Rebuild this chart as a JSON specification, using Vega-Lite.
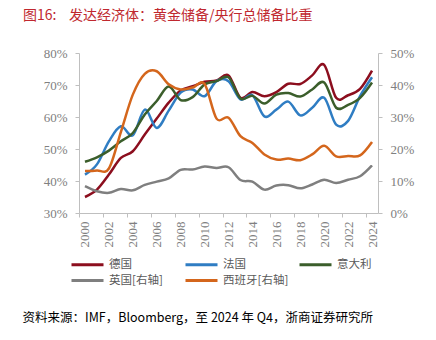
{
  "$schema": "https://vega.github.io/schema/vega-lite/v6.json",
  "width": 299,
  "height": 160,
  "autosize": {"type": "none"},
  "padding": {"left": 79, "top": 53, "right": 58, "bottom": 127},
  "background": "white",
  "title": {
    "text": "图16:\u00a0\u00a0\u00a0\u00a0发达经济体：黄金储备/央行总储备比重",
    "anchor": "start",
    "frame": "group",
    "dx": -56,
    "offset": 24,
    "font": "Noto Sans CJK SC",
    "fontSize": 14,
    "fontWeight": "normal",
    "color": "#C0282F"
  },
  "data": {
    "values": [
      {"year": 2000, "country": "德国", "value": 35.0},
      {"year": 2001, "country": "德国", "value": 37.3},
      {"year": 2002, "country": "德国", "value": 42.0},
      {"year": 2003, "country": "德国", "value": 47.2},
      {"year": 2004, "country": "德国", "value": 49.3},
      {"year": 2005, "country": "德国", "value": 54.5},
      {"year": 2006, "country": "德国", "value": 59.5},
      {"year": 2007, "country": "德国", "value": 64.5},
      {"year": 2008, "country": "德国", "value": 68.3},
      {"year": 2009, "country": "德国", "value": 69.6},
      {"year": 2010, "country": "德国", "value": 71.0},
      {"year": 2011, "country": "德国", "value": 71.4},
      {"year": 2012, "country": "德国", "value": 73.0},
      {"year": 2013, "country": "德国", "value": 66.0},
      {"year": 2014, "country": "德国", "value": 67.8},
      {"year": 2015, "country": "德国", "value": 66.5},
      {"year": 2016, "country": "德国", "value": 67.8},
      {"year": 2017, "country": "德国", "value": 70.4},
      {"year": 2018, "country": "德国", "value": 70.3},
      {"year": 2019, "country": "德国", "value": 73.0},
      {"year": 2020, "country": "德国", "value": 76.3},
      {"year": 2021, "country": "德国", "value": 66.0},
      {"year": 2022, "country": "德国", "value": 66.8},
      {"year": 2023, "country": "德国", "value": 68.8},
      {"year": 2024, "country": "德国", "value": 74.5},
      {"year": 2000, "country": "法国", "value": 42.0},
      {"year": 2001, "country": "法国", "value": 45.2},
      {"year": 2002, "country": "法国", "value": 52.4},
      {"year": 2003, "country": "法国", "value": 57.1},
      {"year": 2004, "country": "法国", "value": 54.3},
      {"year": 2005, "country": "法国", "value": 62.3},
      {"year": 2006, "country": "法国", "value": 56.6},
      {"year": 2007, "country": "法国", "value": 62.0},
      {"year": 2008, "country": "法国", "value": 67.6},
      {"year": 2009, "country": "法国", "value": 68.6},
      {"year": 2010, "country": "法国", "value": 66.5},
      {"year": 2011, "country": "法国", "value": 71.2},
      {"year": 2012, "country": "法国", "value": 71.2},
      {"year": 2013, "country": "法国", "value": 65.5},
      {"year": 2014, "country": "法国", "value": 66.8},
      {"year": 2015, "country": "法国", "value": 60.2},
      {"year": 2016, "country": "法国", "value": 62.3},
      {"year": 2017, "country": "法国", "value": 64.8},
      {"year": 2018, "country": "法国", "value": 60.5},
      {"year": 2019, "country": "法国", "value": 62.9},
      {"year": 2020, "country": "法国", "value": 66.0},
      {"year": 2021, "country": "法国", "value": 57.6},
      {"year": 2022, "country": "法国", "value": 58.8},
      {"year": 2023, "country": "法国", "value": 66.5},
      {"year": 2024, "country": "法国", "value": 72.4},
      {"year": 2000, "country": "意大利", "value": 46.0},
      {"year": 2001, "country": "意大利", "value": 47.4},
      {"year": 2002, "country": "意大利", "value": 49.5},
      {"year": 2003, "country": "意大利", "value": 52.4},
      {"year": 2004, "country": "意大利", "value": 55.0},
      {"year": 2005, "country": "意大利", "value": 60.8},
      {"year": 2006, "country": "意大利", "value": 65.0},
      {"year": 2007, "country": "意大利", "value": 69.5},
      {"year": 2008, "country": "意大利", "value": 65.3},
      {"year": 2009, "country": "意大利", "value": 66.2},
      {"year": 2010, "country": "意大利", "value": 70.2},
      {"year": 2011, "country": "意大利", "value": 71.2},
      {"year": 2012, "country": "意大利", "value": 72.4},
      {"year": 2013, "country": "意大利", "value": 65.8},
      {"year": 2014, "country": "意大利", "value": 66.6},
      {"year": 2015, "country": "意大利", "value": 64.2},
      {"year": 2016, "country": "意大利", "value": 67.0},
      {"year": 2017, "country": "意大利", "value": 67.5},
      {"year": 2018, "country": "意大利", "value": 66.4},
      {"year": 2019, "country": "意大利", "value": 68.6},
      {"year": 2020, "country": "意大利", "value": 70.8},
      {"year": 2021, "country": "意大利", "value": 62.9},
      {"year": 2022, "country": "意大利", "value": 63.8},
      {"year": 2023, "country": "意大利", "value": 66.0},
      {"year": 2024, "country": "意大利", "value": 70.8},
      {"year": 2000, "country": "英国[右轴]", "value": 8.4},
      {"year": 2001, "country": "英国[右轴]", "value": 6.8},
      {"year": 2002, "country": "英国[右轴]", "value": 6.3},
      {"year": 2003, "country": "英国[右轴]", "value": 7.5},
      {"year": 2004, "country": "英国[右轴]", "value": 7.1},
      {"year": 2005, "country": "英国[右轴]", "value": 8.8},
      {"year": 2006, "country": "英国[右轴]", "value": 9.8},
      {"year": 2007, "country": "英国[右轴]", "value": 10.8},
      {"year": 2008, "country": "英国[右轴]", "value": 13.5},
      {"year": 2009, "country": "英国[右轴]", "value": 13.6},
      {"year": 2010, "country": "英国[右轴]", "value": 14.5},
      {"year": 2011, "country": "英国[右轴]", "value": 14.1},
      {"year": 2012, "country": "英国[右轴]", "value": 14.3},
      {"year": 2013, "country": "英国[右轴]", "value": 10.3},
      {"year": 2014, "country": "英国[右轴]", "value": 9.8},
      {"year": 2015, "country": "英国[右轴]", "value": 7.3},
      {"year": 2016, "country": "英国[右轴]", "value": 8.6},
      {"year": 2017, "country": "英国[右轴]", "value": 8.7},
      {"year": 2018, "country": "英国[右轴]", "value": 7.7},
      {"year": 2019, "country": "英国[右轴]", "value": 8.9},
      {"year": 2020, "country": "英国[右轴]", "value": 10.4},
      {"year": 2021, "country": "英国[右轴]", "value": 9.4},
      {"year": 2022, "country": "英国[右轴]", "value": 10.4},
      {"year": 2023, "country": "英国[右轴]", "value": 11.5},
      {"year": 2024, "country": "英国[右轴]", "value": 14.9},
      {"year": 2000, "country": "西班牙[右轴]", "value": 13.1},
      {"year": 2001, "country": "西班牙[右轴]", "value": 13.3},
      {"year": 2002, "country": "西班牙[右轴]", "value": 13.9},
      {"year": 2003, "country": "西班牙[右轴]", "value": 25.3},
      {"year": 2004, "country": "西班牙[右轴]", "value": 37.0},
      {"year": 2005, "country": "西班牙[右轴]", "value": 43.5},
      {"year": 2006, "country": "西班牙[右轴]", "value": 44.3},
      {"year": 2007, "country": "西班牙[右轴]", "value": 40.2},
      {"year": 2008, "country": "西班牙[右轴]", "value": 38.6},
      {"year": 2009, "country": "西班牙[右轴]", "value": 39.2},
      {"year": 2010, "country": "西班牙[右轴]", "value": 40.3},
      {"year": 2011, "country": "西班牙[右轴]", "value": 29.5},
      {"year": 2012, "country": "西班牙[右轴]", "value": 29.8},
      {"year": 2013, "country": "西班牙[右轴]", "value": 24.0},
      {"year": 2014, "country": "西班牙[右轴]", "value": 21.9},
      {"year": 2015, "country": "西班牙[右轴]", "value": 18.3},
      {"year": 2016, "country": "西班牙[右轴]", "value": 16.7},
      {"year": 2017, "country": "西班牙[右轴]", "value": 17.0},
      {"year": 2018, "country": "西班牙[右轴]", "value": 16.5},
      {"year": 2019, "country": "西班牙[右轴]", "value": 18.3},
      {"year": 2020, "country": "西班牙[右轴]", "value": 21.0},
      {"year": 2021, "country": "西班牙[右轴]", "value": 17.7},
      {"year": 2022, "country": "西班牙[右轴]", "value": 17.8},
      {"year": 2023, "country": "西班牙[右轴]", "value": 18.0},
      {"year": 2024, "country": "西班牙[右轴]", "value": 22.2}
    ]
  },
  "encoding": {
    "x": {
      "field": "year",
      "type": "quantitative",
      "scale": {"domain": [1999.5, 2024.5], "nice": false, "zero": false},
      "axis": {
        "values": [2000, 2002, 2004, 2006, 2008, 2010, 2012, 2014, 2016, 2018, 2020, 2022, 2024],
        "format": "d",
        "labelAngle": -90,
        "tickOffset": -6,
        "labelOffset": 6,
        "labelPadding": 4,
        "title": "资料来源：IMF，Bloomberg，至 2024 年 Q4，浙商证券研究所",
        "titleX": -57,
        "titleY": 104,
        "titleAlign": "left",
        "titleAnchor": null,
        "titleBaseline": "middle",
        "titleAngle": 0,
        "titleFont": "Noto Sans CJK SC",
        "titleFontSize": 12.5,
        "titleFontWeight": "normal",
        "titleColor": "#000000"
      }
    },
    "color": {
      "field": "country",
      "type": "nominal",
      "scale": {
        "domain": ["德国", "法国", "意大利", "英国[右轴]", "西班牙[右轴]"],
        "range": ["#8C0E1E", "#2F7DC3", "#3B5E2B", "#7F7F7F", "#D4661C"]
      },
      "legend": {
        "title": null,
        "orient": "none",
        "legendX": -9,
        "legendY": 202,
        "direction": "horizontal",
        "columns": 3,
        "gridAlign": "all",
        "columnPadding": 4,
        "rowPadding": 0,
        "symbolType": "M-1,0H3",
        "symbolSize": 256,
        "symbolStrokeWidth": 3,
        "labelOffset": 20,
        "labelFont": "Noto Sans CJK SC",
        "labelFontSize": 11.5,
        "labelColor": "#595959"
      }
    }
  },
  "layer": [
    {
      "transform": [{"filter": {"field": "country", "oneOf": ["德国", "法国", "意大利"]}}],
      "mark": {"type": "line", "interpolate": "cardinal", "strokeWidth": 2.5},
      "encoding": {
        "y": {
          "field": "value",
          "type": "quantitative",
          "scale": {"domain": [30, 80], "nice": false, "zero": false},
          "axis": {
            "orient": "left",
            "values": [30, 40, 50, 60, 70, 80],
            "labelExpr": "datum.value + '%'",
            "title": null,
            "labelPadding": 8
          }
        }
      }
    },
    {
      "transform": [{"filter": {"field": "country", "oneOf": ["英国[右轴]", "西班牙[右轴]"]}}],
      "mark": {"type": "line", "interpolate": "cardinal", "strokeWidth": 2.5},
      "encoding": {
        "y": {
          "field": "value",
          "type": "quantitative",
          "scale": {"domain": [0, 50], "nice": false, "zero": false},
          "axis": {
            "orient": "right",
            "values": [0, 10, 20, 30, 40, 50],
            "labelExpr": "datum.value + '%'",
            "title": null,
            "labelPadding": 8
          }
        }
      }
    }
  ],
  "resolve": {"scale": {"y": "independent"}},
  "config": {
    "view": {"stroke": null},
    "axis": {
      "grid": false,
      "domainColor": "#BFBFBF",
      "tickColor": "#BFBFBF",
      "tickSize": 4,
      "labelFont": "Liberation Serif",
      "labelFontSize": 13,
      "labelColor": "#808080"
    }
  }
}
